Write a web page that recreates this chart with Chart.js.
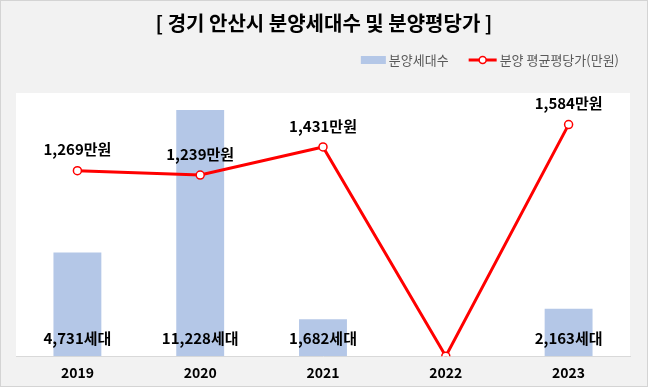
<!DOCTYPE html>
<html>
<head>
<meta charset="utf-8">
<script src="https://cdn.jsdelivr.net/npm/chart.js@4/dist/chart.umd.min.js"></script>
<style>
html,body{margin:0;padding:0;background:#f2f2f2;}
#wrap{width:648px;height:387px;position:relative;}
</style>
</head>
<body>
<div id="wrap"><canvas id="c" width="648" height="387"></canvas></div>
<script>
const years = ['2019', '2020', '2021', '2022', '2023'];
const units = [4731, 11228, 1682, 0, 2163];
const prices = [1269, 1239, 1431, 0, 1584];
const titleText = '[ 경기 안산시 분양세대수 및 분양평당가 ]';
const legendUnits = '분양세대수';
const legendPrice = '분양 평균평당가(만원)';

const FONT = "'Noto Sans CJK KR', 'Noto Sans', sans-serif";
const fmt = v => v.toLocaleString('en-US');

const bgPlugin = {
  id: 'bg',
  beforeDraw(chart) {
    const {ctx, chartArea: a, width, height} = chart;
    ctx.save();
    ctx.fillStyle = '#f2f2f2';
    ctx.fillRect(0, 0, width, height);
    ctx.fillStyle = '#ffffff';
    ctx.fillRect(a.left, a.top, a.right - a.left, a.bottom - a.top);
    ctx.strokeStyle = '#d4d4d4';
    ctx.lineWidth = 1;
    ctx.strokeRect(0.5, 0.5, width - 1, height - 1);
    ctx.restore();
  }
};

const labelPlugin = {
  id: 'labels',
  afterDatasetsDraw(chart) {
    const {ctx, chartArea: a} = chart;
    ctx.save();
    ctx.fillStyle = '#000';
    ctx.font = 'bold 15px ' + FONT;
    ctx.textAlign = 'center';
    ctx.textBaseline = 'middle';
    chart.getDatasetMeta(1).data.forEach((el, i) => {
      if (!units[i]) return;
      ctx.fillText(fmt(units[i]) + '세대', el.x, a.bottom - 18);
    });
    chart.getDatasetMeta(0).data.forEach((el, i) => {
      if (!prices[i]) return;
      ctx.fillText(fmt(prices[i]) + '만원', el.x, el.y - 21);
    });
    ctx.restore();
  },
  afterDraw(chart) {
    const {ctx, width} = chart;
    ctx.save();
    // title
    ctx.fillStyle = '#000';
    ctx.font = 'bold 20px ' + FONT;
    ctx.textAlign = 'center';
    ctx.textBaseline = 'middle';
    ctx.fillText(titleText, width / 2, 23);
    // legend
    ctx.font = '13px ' + FONT;
    ctx.textAlign = 'left';
    ctx.fillStyle = '#595959';
    const right = 619, ly = 60;
    const w2 = ctx.measureText(legendPrice).width;
    const x2 = right - w2;
    ctx.fillText(legendPrice, x2, ly);
    const lx0 = x2 - 31, lx1 = x2 - 3;
    ctx.strokeStyle = '#ff0000';
    ctx.lineWidth = 3;
    ctx.beginPath(); ctx.moveTo(lx0, ly); ctx.lineTo(lx1, ly); ctx.stroke();
    ctx.beginPath(); ctx.arc((lx0 + lx1) / 2, ly, 3.5, 0, Math.PI * 2);
    ctx.fillStyle = '#fff'; ctx.fill();
    ctx.lineWidth = 1.5; ctx.stroke();
    ctx.fillStyle = '#595959';
    const w1 = ctx.measureText(legendUnits).width;
    const x1 = lx0 - 20 - w1;
    ctx.fillText(legendUnits, x1, ly);
    ctx.fillStyle = '#b4c7e7';
    ctx.fillRect(x1 - 28, ly - 4, 25, 8);
    ctx.restore();
  }
};

new Chart(document.getElementById('c'), {
  data: {
    labels: years,
    datasets: [
      {
        type: 'line',
        label: legendPrice,
        data: prices,
        yAxisID: 'y1',
        borderColor: '#ff0000',
        borderWidth: 3,
        pointRadius: 4,
        pointBorderWidth: 1.5,
        pointBackgroundColor: '#ffffff',
        pointBorderColor: '#ff0000',
        tension: 0,
        order: 0
      },
      {
        type: 'bar',
        label: legendUnits,
        data: units,
        yAxisID: 'y',
        backgroundColor: '#b4c7e7',
        barPercentage: 0.39,
        categoryPercentage: 1,
        order: 1
      }
    ]
  },
  plugins: [bgPlugin, labelPlugin],
  options: {
    responsive: false,
    animation: false,
    events: [],
    layout: {padding: {left: 16, right: 18, top: 93, bottom: -3}},
    plugins: {legend: {display: false}, title: {display: false}, tooltip: {enabled: false}},
    scales: {
      x: {
        offset: true,
        grid: {display: false, drawTicks: false},
        border: {display: true, color: '#d9d9d9', width: 1},
        ticks: {color: '#000', font: {family: FONT, size: 14, weight: 'bold'}, padding: 8.5}
      },
      y: {display: false, min: 0, max: 12000},
      y1: {display: false, min: 0, max: 1800, position: 'right'}
    }
  }
});
</script>
</body>
</html>
